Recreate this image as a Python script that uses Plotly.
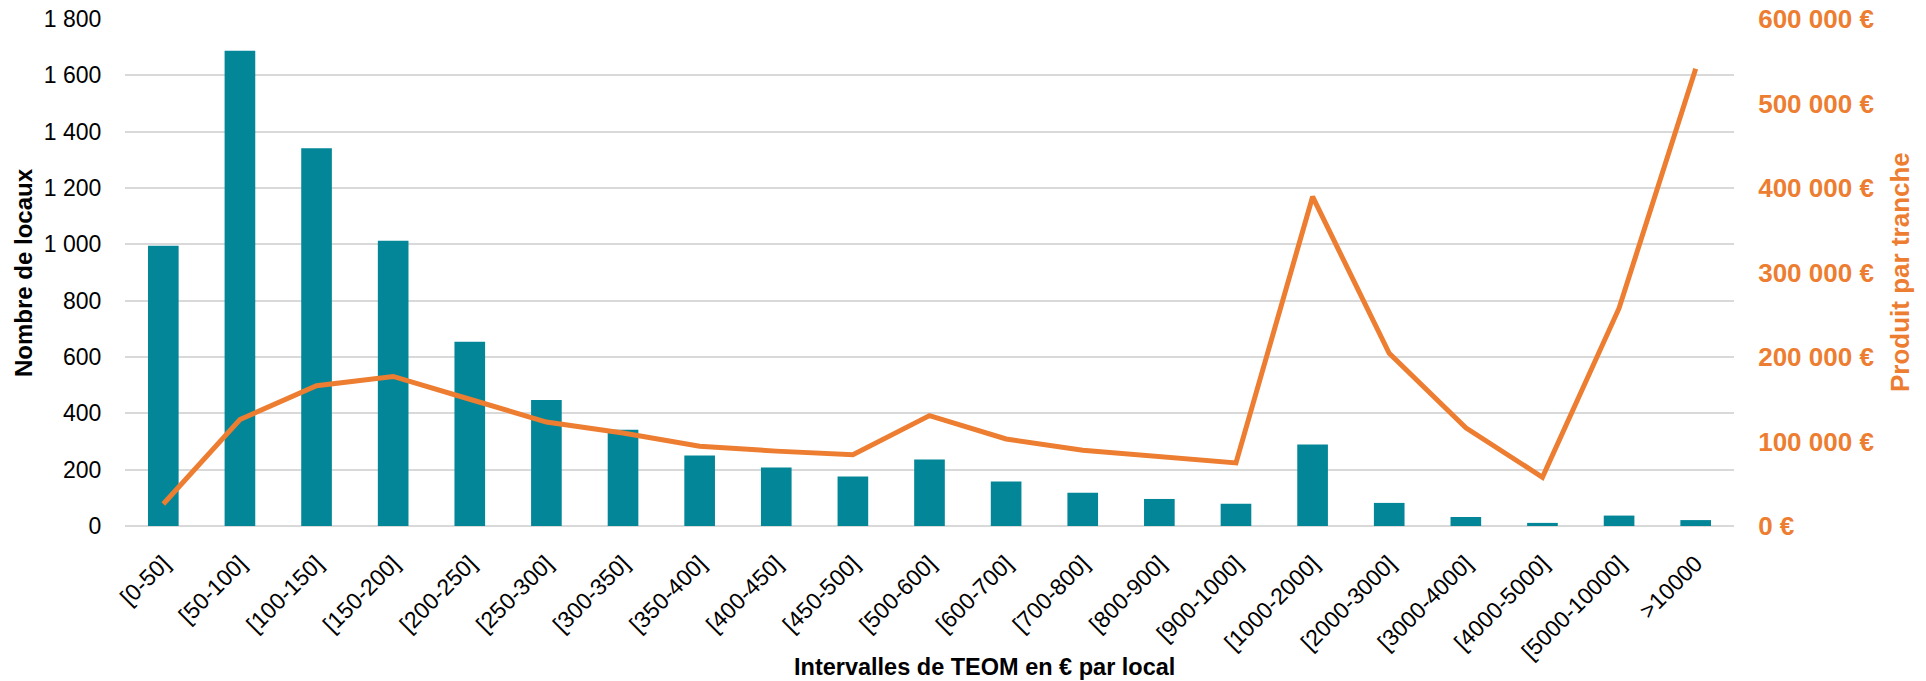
import plotly.graph_objects as go

categories = ["[0-50]", "[50-100]", "[100-150]", "[150-200]", "[200-250]", "[250-300]",
              "[300-350]", "[350-400]", "[400-450]", "[450-500]", "[500-600]", "[600-700]",
              "[700-800]", "[800-900]", "[900-1000]", "[1000-2000]", "[2000-3000]",
              "[3000-4000]", "[4000-5000]", "[5000-10000]", ">10000"]
nombre_locaux = [995, 1687, 1341, 1013, 654, 447, 342, 250, 208, 176, 236, 158, 118, 96, 79,
                 289, 82, 32, 11, 37, 21]
produit_tranche = [26000, 126000, 166000, 177000, 150000, 123000, 110000, 94500, 88600, 84400,
                   130600, 103000, 89600, 82500, 74700, 389700, 204300, 116300, 57700, 257800,
                   541000]

left_ticks = list(range(0, 1801, 200))
right_ticks = list(range(0, 600001, 100000))


def fr_num(v):
    return f"{v:,}".replace(",", " ")


left_labels = [fr_num(v) for v in left_ticks]
right_labels = [fr_num(v) + " €" for v in right_ticks]

TEAL = "#038798"
ORANGE = "#ED7D31"
FONT = "Liberation Sans, Arial, sans-serif"

W, H = 1926, 681
ML, MR, MT, MB = 125, 192, 19, 155
PW = W - ML - MR
PH = H - MT - MB

fig = go.Figure()
fig.add_trace(go.Bar(x=categories, y=nombre_locaux, marker=dict(color=TEAL, line=dict(width=0)),
                     width=0.4, yaxis="y", name="Nombre de locaux"))
fig.add_trace(go.Scatter(x=categories, y=produit_tranche, mode="lines",
                         line=dict(color=ORANGE, width=5), yaxis="y2",
                         name="Produit par tranche"))


def px_x(p):
    return (p - ML) / PW


def px_y(p):
    return (MT + PH - p) / PH


fig.update_layout(
    width=W, height=H,
    margin=dict(l=ML, r=MR, t=MT, b=MB, pad=0, autoexpand=False),
    paper_bgcolor="white", plot_bgcolor="white",
    showlegend=False,
    font=dict(family=FONT, color="#000000"),
    xaxis=dict(
        type="category", range=[-0.5, len(categories) - 0.5],
        tickangle=-45, tickfont=dict(size=23, color="#000000", family=FONT),
        showgrid=False, showline=False, zeroline=False,
        ticks="outside", ticklen=14, tickcolor="rgba(0,0,0,0)",
        automargin=False,
    ),
    yaxis=dict(
        range=[0, 1800], tickvals=left_ticks, ticktext=left_labels,
        tickfont=dict(size=23, color="#000000", family=FONT),
        showgrid=True, gridcolor="#D9D9D9", gridwidth=2,
        zeroline=True, zerolinecolor="#D9D9D9", zerolinewidth=2,
        showline=False,
        ticks="outside", ticklen=18, tickcolor="rgba(0,0,0,0)",
        automargin=False,
    ),
    yaxis2=dict(
        range=[0, 600000], tickvals=right_ticks, ticktext=right_labels,
        overlaying="y", side="right",
        tickfont=dict(size=26, color=ORANGE, family=FONT, weight="bold"),
        showgrid=False, zeroline=False, showline=False,
        ticks="outside", ticklen=18, tickcolor="rgba(0,0,0,0)",
        automargin=False,
    ),
    annotations=[
        dict(text="<b>Nombre de locaux</b>", textangle=-90, xref="paper", yref="paper",
             x=px_x(23), y=px_y(273), xanchor="center", yanchor="middle", showarrow=False,
             font=dict(size=24, color="#000000", family=FONT)),
        dict(text="<b>Produit par tranche</b>", textangle=-90, xref="paper", yref="paper",
             x=px_x(1900), y=px_y(272), xanchor="center", yanchor="middle", showarrow=False,
             font=dict(size=26, color=ORANGE, family=FONT)),
        dict(text="<b>Intervalles de TEOM en € par local</b>", xref="paper", yref="paper",
             x=px_x(985), y=px_y(667), xanchor="center", yanchor="middle", showarrow=False,
             font=dict(size=23.5, color="#000000", family=FONT)),
    ],
)

fig.write_html("out.html", config={"displayModeBar": False},
               post_script="document.body.style.margin='0';document.body.style.padding='0';")
